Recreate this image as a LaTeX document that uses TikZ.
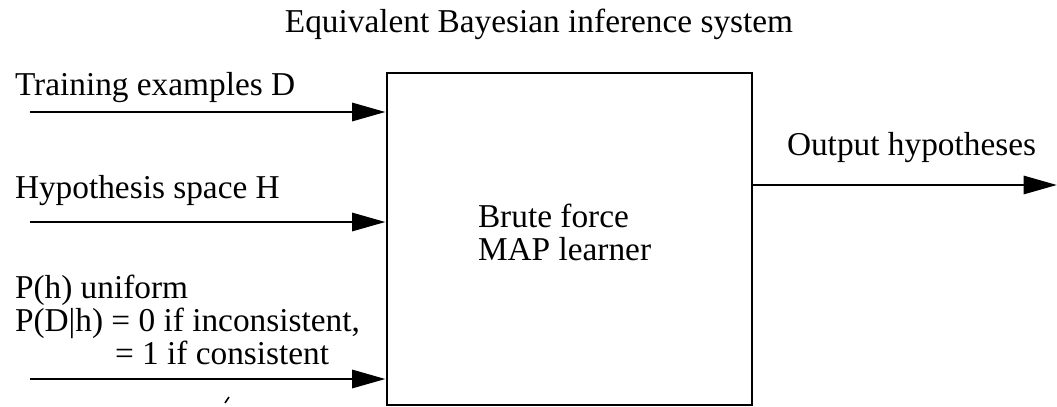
\documentclass[tikz,border=0pt]{standalone}
\usepackage{fontspec}
\setmainfont{Liberation Serif}
\usetikzlibrary{arrows.meta}

\begin{document}
\begin{tikzpicture}[x=0.75pt,y=-0.75pt,
  lbl/.style={anchor=base west,inner sep=0pt,outer sep=0pt,
    font=\fontsize{25}{25}\selectfont},
  ttl/.style={anchor=base,inner sep=0pt,outer sep=0pt,
    font=\fontsize{25}{25}\selectfont},
  learnerbox/.style={draw,line width=2.2pt,inner sep=0pt,
    minimum width=273.75pt,minimum height=249pt},
  feed/.style={line width=2.2pt,
    -{Triangle[length=25pt,width=13.5pt]}}]
  \useasboundingbox (0,0) rectangle (1057,407);

  % title
  \node[ttl] (title) at (539,32) {Equivalent Bayesian inference system};

  % the learner
  \node[learnerbox] (box) at (569.5,239) {};
  \node[lbl] (brute) at (478,227) {Brute force};
  \node[lbl] (map) at (478,260) {MAP learner};

  % inputs
  \node[lbl] (trainlbl) at (15,95) {Training examples D};
  \coordinate (inD) at (30,112);
  \draw[feed] (inD) -- (box.west |- inD);

  \node[lbl] (hyplbl) at (15,198) {Hypothesis space H};
  \coordinate (inH) at (30,222);
  \draw[feed] (inH) -- (box.west |- inH);

  \node[lbl] (prior) at (15,298) {P(h) uniform};
  \node[lbl] (lik) at (15,331) {P(D|h) = 0 if inconsistent,};
  \node[lbl] (lik2) at (115,364) {= 1 if consistent};
  \coordinate (inP) at (30,379);
  \draw[feed] (inP) -- (box.west |- inP);

  % output
  \node[lbl] (outlbl) at (787,155) {Output hypotheses};
  \coordinate (out) at (1057,185);
  \draw[feed] (box.east |- out) -- (out);

  % small stray mark below the last input
  \coordinate (m1) at (225,403);
  \coordinate (m2) at (229,397);
  \draw[line width=1.2pt] (m1) -- (m2);
\end{tikzpicture}
\end{document}
